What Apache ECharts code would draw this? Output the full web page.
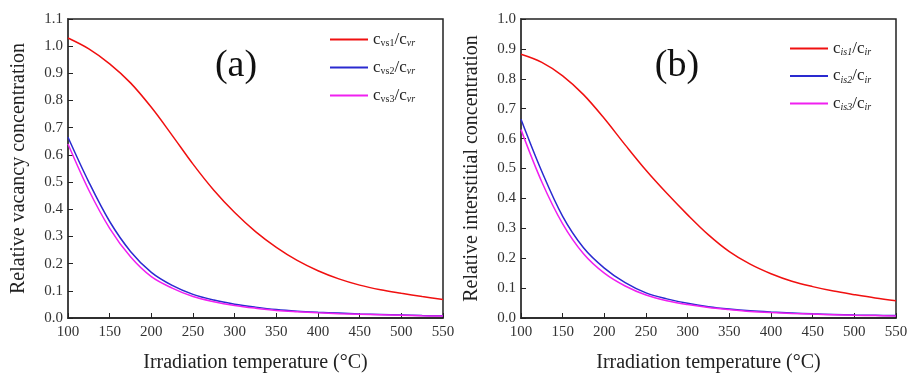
<!DOCTYPE html>
<html>
<head>
<meta charset="utf-8">
<script src="https://cdn.jsdelivr.net/npm/echarts@6/dist/echarts.min.js"></script>
<style>
  html, body { margin: 0; padding: 0; background: #fff; }
  #chart { width: 909px; height: 374px; }
</style>
</head>
<body>
<div id="chart"></div>
<script>
// irradiation temperature (°C)
const temps = [100, 125, 150, 175, 200, 225, 250, 275, 300, 325, 350, 375, 400, 425, 450, 475, 500, 525, 550]

// (a) relative vacancy concentration
const vs1 = [1.03, 0.99, 0.935, 0.865, 0.775, 0.672, 0.566, 0.47, 0.388, 0.318, 0.26, 0.212, 0.174, 0.144, 0.121, 0.104, 0.091, 0.079, 0.068]
const vs2 = [0.665, 0.5, 0.355, 0.245, 0.168, 0.12, 0.087, 0.066, 0.051, 0.04, 0.031, 0.025, 0.021, 0.018, 0.015, 0.013, 0.011, 0.009, 0.008]
const vs3 = [0.64, 0.47, 0.33, 0.225, 0.152, 0.11, 0.079, 0.06, 0.046, 0.036, 0.028, 0.023, 0.019, 0.016, 0.014, 0.012, 0.01, 0.008, 0.007]

// (b) relative interstitial concentration
const is1 = [0.882, 0.855, 0.81, 0.747, 0.667, 0.579, 0.494, 0.417, 0.345, 0.278, 0.222, 0.18, 0.148, 0.123, 0.105, 0.09, 0.078, 0.067, 0.058]
const is2 = [0.665, 0.49, 0.34, 0.235, 0.167, 0.118, 0.084, 0.064, 0.049, 0.038, 0.03, 0.024, 0.02, 0.017, 0.014, 0.012, 0.01, 0.009, 0.008]
const is3 = [0.63, 0.455, 0.315, 0.215, 0.15, 0.107, 0.077, 0.058, 0.045, 0.035, 0.028, 0.022, 0.018, 0.015, 0.013, 0.011, 0.009, 0.008, 0.007]

const xTicks = [100, 150, 200, 250, 300, 350, 400, 450, 500, 550]

const RED = '#f01010'
const BLUE = '#2a2ad0'
const MAG = '#f020f0'
const FONT = 'Liberation Serif'

const pairs = (ys) => temps.map((t, i) => [t, ys[i]])

const chart = echarts.init(document.getElementById('chart'))

function xAxis(idx) {
  return {
    type: 'value',
    gridIndex: idx,
    min: 100,
    max: 550,
    interval: 50,
    name: 'Irradiation temperature (°C)',
    nameLocation: 'middle',
    nameGap: 35,
    nameTextStyle: { fontFamily: FONT, fontSize: 20, color: '#222' },
    axisLine: { show: true, lineStyle: { color: '#222', width: 1.5 } },
    axisTick: { show: true, inside: true, length: 5, lineStyle: { color: '#222' } },
    axisLabel: {
      fontFamily: FONT, fontSize: 15, color: '#333', margin: 7,
      formatter: (v) => (xTicks.includes(v) ? String(v) : ''),
    },
    splitLine: { show: false },
  }
}

function yAxis(idx, max, name) {
  return {
    type: 'value',
    gridIndex: idx,
    min: 0,
    max: max,
    interval: 0.1,
    name: name,
    nameLocation: 'middle',
    nameGap: 39,
    nameTextStyle: { fontFamily: FONT, fontSize: 20, color: '#222' },
    axisLine: { show: true, lineStyle: { color: '#444', width: 2 } },
    axisTick: { show: true, inside: true, length: 5, lineStyle: { color: '#222' } },
    axisLabel: {
      fontFamily: FONT, fontSize: 15, color: '#333', margin: 5,
      formatter: (v) => v.toFixed(1),
    },
    splitLine: { show: false },
  }
}

function line(name, ys, color, idx) {
  return {
    name: name,
    type: 'line',
    xAxisIndex: idx,
    yAxisIndex: idx,
    data: pairs(ys),
    smooth: 0.35,
    symbol: 'none',
    color: color,
    lineStyle: { width: 1.5, color: color },
  }
}

const legendRich = {
  c: { fontFamily: FONT, fontSize: 17, color: '#222' },
  s: { fontFamily: FONT, fontSize: 10, color: '#222', padding: [8, 0, 0, 0] },
  si: { fontFamily: FONT, fontSize: 10, fontStyle: 'italic', color: '#222', padding: [8, 0, 0, 0] },
}

const legendText = {
  a1: '{c|c}{s|vs1}{c|/c}{si|vr}',
  a2: '{c|c}{s|vs2}{c|/c}{si|vr}',
  a3: '{c|c}{s|vs3}{c|/c}{si|vr}',
  b1: '{c|c}{si|is1}{c|/c}{si|ir}',
  b2: '{c|c}{si|is2}{c|/c}{si|ir}',
  b3: '{c|c}{si|is3}{c|/c}{si|ir}',
}

function legend(left, top, names, gap) {
  return {
    orient: 'vertical',
    left: left,
    top: top,
    padding: 0,
    data: names,
    itemWidth: 38,
    itemHeight: 14,
    itemGap: gap,
    icon: 'path://M0,6 L38,6 L38,8 L0,8 Z',
    formatter: (n) => legendText[n],
    textStyle: { rich: legendRich, padding: [0, 0, 0, 0] },
  }
}

const gridBase = {
  top: 19, bottom: 56, show: true, borderColor: '#222', borderWidth: 1.5,
  backgroundColor: 'transparent', outerBoundsMode: 'none',
}

chart.setOption({
  backgroundColor: '#fff',
  animation: false,
  title: [
    { text: '(a)', left: 231, top: 42, textAlign: 'center',
      textStyle: { fontFamily: FONT, fontSize: 38, fontWeight: 'normal', color: '#111' } },
    { text: '(b)', left: 672, top: 42, textAlign: 'center',
      textStyle: { fontFamily: FONT, fontSize: 38, fontWeight: 'normal', color: '#111' } },
  ],
  legend: [
    legend(330, 31, ['a1', 'a2', 'a3'], 10.5),
    legend(790, 40, ['b1', 'b2', 'b3'], 10),
  ],
  grid: [
    Object.assign({ left: 68, right: 466 }, gridBase),
    Object.assign({ left: 521, right: 13 }, gridBase),
  ],
  xAxis: [xAxis(0), xAxis(1)],
  yAxis: [
    yAxis(0, 1.1, 'Relative vacancy concentration'),
    yAxis(1, 1.0, 'Relative interstitial concentration'),
  ],
  series: [
    line('a1', vs1, RED, 0),
    line('a2', vs2, BLUE, 0),
    line('a3', vs3, MAG, 0),
    line('b1', is1, RED, 1),
    line('b2', is2, BLUE, 1),
    line('b3', is3, MAG, 1),
  ],
})
</script>
</body>
</html>
